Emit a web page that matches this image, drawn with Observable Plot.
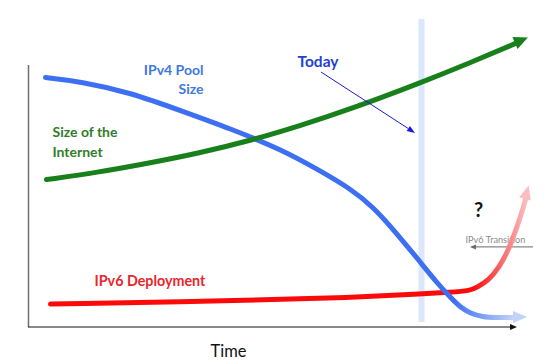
<!DOCTYPE html>
<html>
<head>
<meta charset="utf-8">
<script src="https://cdn.jsdelivr.net/npm/d3@7"></script>
<script src="https://cdn.jsdelivr.net/npm/@observablehq/plot@0.6"></script>
<style>
  html, body { margin: 0; padding: 0; background: #fff; }
  #chart svg { display: block; }
</style>
</head>
<body>
<div id="chart"></div>
<script>
// ---------- data (time and level in arbitrary units) ----------
const internetTime = [3.6, 13.8, 23.8, 33.8, 44.4, 54.4, 64.4, 78.6, 88.4, 97.4];
const internetSize = [49.3, 51.7, 54.7, 58, 62.3, 67.3, 72.8, 81.7, 88.3, 94.7];

const ipv4Time = [3.4, 10.4, 20.4, 30.4, 40.4, 51, 57.8, 64.4, 69, 72.4, 75.8, 78.4, 81.8, 84.4, 86.4, 88.4, 90.8, 93.4, 97];
const ipv4Pool = [83.3, 82, 78.3, 72.3, 66.3, 59, 52.7, 46.3, 40, 33.7, 27, 21.7, 14.7, 10, 6.7, 4.7, 3.5, 3.3, 3.3];

const ipv6Time = [4.4, 44.4, 64.4, 78.4, 84.4, 88.4, 89.6, 92, 94, 96, 97.6, 98.8, 99.4];
const ipv6Deploy = [7.8, 9, 10, 11.2, 11.7, 12.3, 13.3, 15.7, 19.7, 25.7, 33, 39, 42.7];

const todayTime = [78.6];
const axisTop = 87.3;       // top of the vertical (level) axis
const axisEnd = 97.8;       // end of the time axis arrow

// pointer arrows: [x1, y1, x2, y2]
const todayPointer = [58.6, 85, 77.4, 64.7];
const transitionPointer = [101, 26.7, 88.4, 26.7];

// labels: [text, x, y]
const ipv4Label = ["IPv4 Pool\nSize", 35, 78];
const internetLabel = ["Size of the\nInternet", 4.8, 57];
const todayLabel = ["Today", 53.8, 87];
const ipv6Label = ["IPv6 Deployment", 13.2, 14];
const questionLabel = ["?", 90, 36.7];
const transitionLabel = ["IPv6 Transition", 87.4, 28.3];
const timeLabel = ["Time", 40, -9.7];

// ---------- build tables ----------
const zipSeries = (xs, ys) => xs.map((x, i) => ({x, y: ys[i]}));
const internet = zipSeries(internetTime, internetSize);
const ipv4 = zipSeries(ipv4Time, ipv4Pool);
const ipv6 = zipSeries(ipv6Time, ipv6Deploy);
const lbl = (l) => [{text: l[0], x: l[1], y: l[2]}];

// ---------- helper marks ----------
function gradients() {
  return (index, scales) => {
    const defs = d3.create("svg:defs");
    const mk = (id, xa, xb, c0, c1) => {
      const g = defs.append("linearGradient").attr("id", id)
        .attr("gradientUnits", "userSpaceOnUse")
        .attr("x1", scales.x(xa)).attr("x2", scales.x(xb)).attr("y1", 0).attr("y2", 0);
      g.append("stop").attr("offset", 0).attr("stop-color", c0);
      g.append("stop").attr("offset", 1).attr("stop-color", c1);
    };
    mk("blueFade", 85, ipv4Time[ipv4Time.length - 1], "#3d6ff2", "#c3d3f8");
    mk("redFade", 89, ipv6Time[ipv6Time.length - 1], "#fb0a0a", "#f9bcbf");
    return defs.node();
  };
}

// filled head placed beyond the last point of a series, pointing along its last segment
function seriesHead(data, color, len, wid) {
  return (index, scales) => {
    const a = data[data.length - 2], b = data[data.length - 1];
    const x0 = scales.x(a.x), y0 = scales.y(a.y), x1 = scales.x(b.x), y1 = scales.y(b.y);
    const d = Math.hypot(x1 - x0, y1 - y0), ux = (x1 - x0) / d, uy = (y1 - y0) / d;
    const tip = [x1 + ux * len, y1 + uy * len];
    const l = [x1 - uy * wid / 2, y1 + ux * wid / 2], r = [x1 + uy * wid / 2, y1 - ux * wid / 2];
    return d3.create("svg:path")
      .attr("d", `M${tip}L${l}L${r}Z`).attr("fill", color).node();
  };
}

// straight arrow with filled head whose tip is at the end point
function pointer(p, color, width, len, wid) {
  return (index, scales) => {
    const x0 = scales.x(p[0]), y0 = scales.y(p[1]), x1 = scales.x(p[2]), y1 = scales.y(p[3]);
    const d = Math.hypot(x1 - x0, y1 - y0), ux = (x1 - x0) / d, uy = (y1 - y0) / d;
    const bx = x1 - ux * len, by = y1 - uy * len;
    const g = d3.create("svg:g");
    g.append("line").attr("x1", x0).attr("y1", y0).attr("x2", bx).attr("y2", by)
      .attr("stroke", color).attr("stroke-width", width);
    g.append("path")
      .attr("d", `M${x1},${y1}L${bx - uy * wid / 2},${by + ux * wid / 2}L${bx + uy * wid / 2},${by - ux * wid / 2}Z`)
      .attr("fill", color);
    return g.node();
  };
}

const chart = Plot.plot({
  width: 559,
  height: 364,
  marginLeft: 28,
  marginRight: 31,
  marginTop: 15,
  marginBottom: 37,
  x: {domain: [0, 100], axis: null},
  y: {domain: [0, 104], axis: null},
  style: {fontFamily: "Lato, 'Open Sans', sans-serif", background: "#fff", overflow: "visible"},
  marks: [
    gradients(),
    // "today" band
    Plot.ruleX(todayTime, {x: d => d, y1: 1.7, y2: 102.7, stroke: "#dce7fb", strokeWidth: 6}),
    // axes
    Plot.ruleX([0], {x: d => d, y1: 0, y2: axisTop, stroke: "#6e6e6e", strokeWidth: 1.5}),
    pointer([0, 0, axisEnd, 0], "#111", 1, 7, 6),
    // labels
    Plot.text(lbl(ipv4Label), {x: "x", y: "y", text: "text", textAnchor: "end", lineAnchor: "bottom",
      lineHeight: 1.3, fontSize: 14, fontWeight: "bold", fill: "#3e78e0"}),
    Plot.text(lbl(internetLabel), {x: "x", y: "y", text: "text", textAnchor: "start", lineAnchor: "bottom",
      lineHeight: 1.36, fontSize: 14, fontWeight: "bold", fill: "#2f7d2a"}),
    Plot.text(lbl(todayLabel), {x: "x", y: "y", text: "text", textAnchor: "start", lineAnchor: "bottom",
      fontSize: 15.5, fontWeight: "bold", fill: "#1f3fd4"}),
    Plot.text(lbl(ipv6Label), {x: "x", y: "y", text: "text", textAnchor: "start", lineAnchor: "bottom",
      fontSize: 14.3, fontWeight: "bold", fill: "#e8262b"}),
    Plot.text(lbl(questionLabel), {x: "x", y: "y", text: "text", textAnchor: "middle", lineAnchor: "bottom",
      fontSize: 20, fontWeight: "bold", fill: "#111"}),
    Plot.text(lbl(transitionLabel), {x: "x", y: "y", text: "text", textAnchor: "start", lineAnchor: "bottom",
      fontSize: 9.2, fill: "#8a8a8a"}),
    pointer(transitionPointer, "#6a6a6a", 1, 6, 5),
    Plot.text(lbl(timeLabel), {x: "x", y: "y", text: "text", textAnchor: "middle", lineAnchor: "bottom",
      fontSize: 16.5, fill: "#111"}),
    // series
    Plot.line(ipv6, {x: "x", y: "y", curve: "basis", stroke: "url(#redFade)", strokeWidth: 5}),
    seriesHead(ipv6, "#f9bcbf", 14, 12),
    Plot.line(ipv4, {x: "x", y: "y", curve: "basis", stroke: "url(#blueFade)", strokeWidth: 5}),
    seriesHead(ipv4, "#c3d3f8", 14, 12),
    Plot.line(internet, {x: "x", y: "y", curve: "basis", stroke: "#17801a", strokeWidth: 5}),
    seriesHead(internet, "#17801a", 14, 13),
    // today pointer
    pointer(todayPointer, "#1a1ad8", 1, 8, 6)
  ]
});
document.getElementById("chart").appendChild(chart);
</script>
</body>
</html>
